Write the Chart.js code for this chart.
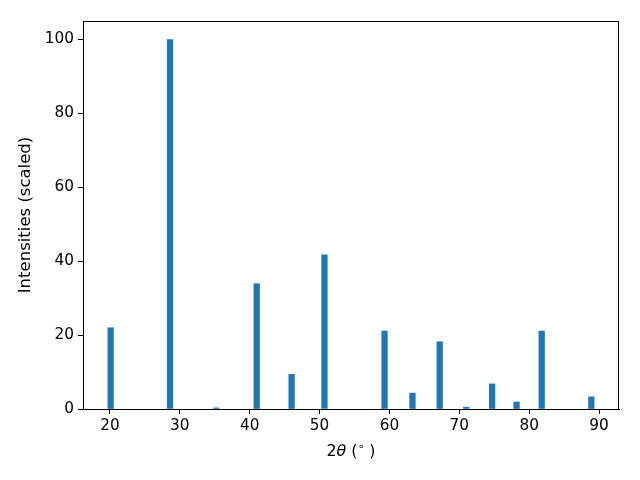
<!DOCTYPE html>
<html>
<head>
<meta charset="utf-8">
<script src="https://cdn.jsdelivr.net/npm/chart.js@4/dist/chart.umd.min.js"></script>
<style>
  html, body { margin: 0; padding: 0; background: #fff; }
  #wrap { width: 640px; height: 480px; }
</style>
</head>
<body>
<div id="wrap"><canvas id="xrd"></canvas></div>
<script>
    // peak positions (2theta, degrees) and scaled intensities
    const peakAngles = [20.1, 28.6, 35.2, 41.0, 46.0, 50.7, 59.3, 63.3, 67.2, 71.0, 74.7, 78.2, 81.8, 88.9];
    const peakIntensities = [22.0, 100.0, 0.3, 33.9, 9.4, 41.7, 21.1, 4.3, 18.2, 0.5, 6.8, 1.9, 21.1, 3.3];
    const xTicks = [20, 30, 40, 50, 60, 70, 80, 90];
    const yTicks = [0, 20, 40, 60, 80, 100];

    const FAMILY = 'DejaVu Sans';
    const FONT = { family: FAMILY, size: 15.3 };
    const LABEL_FONT = { family: FAMILY, size: 16.5 };

    // top/right spines like matplotlib, plus the math-style x label
    const frame = {
        id: 'frame',
        afterDraw(chart) {
            const { ctx, chartArea: a } = chart;
            ctx.save();
            ctx.strokeStyle = '#000';
            ctx.lineWidth = 1;
            ctx.strokeRect(a.left + 0.5, a.top + 0.5, a.right - a.left - 1, a.bottom - a.top);

            // x label: 2θ ( ° )
            const parts = [
                { t: '2', f: `15.8px "${FAMILY}"`, dy: 0 },
                { t: 'θ', f: `oblique 15.8px "${FAMILY}"`, dy: 0 },
                { t: ' (', f: `15.8px "${FAMILY}"`, dy: 0 },
                { t: '∘', f: `11px "${FAMILY}"`, dy: -5 },
                { t: ' )', f: `15.8px "${FAMILY}"`, dy: 0 }
            ];
            let total = 0;
            parts.forEach(p => { ctx.font = p.f; p.w = ctx.measureText(p.t).width; total += p.w; });
            let x = (a.left + a.right) / 2 - total / 2;
            const y = 452;
            ctx.fillStyle = '#000';
            ctx.textBaseline = 'middle';
            ctx.textAlign = 'left';
            parts.forEach(p => {
                ctx.font = p.f;
                ctx.fillText(p.t, x, y + p.dy);
                x += p.w;
            });
            ctx.restore();
        }
    };

    const points = peakAngles.map((x, i) => ({ x, y: peakIntensities[i] }));

    new Chart(document.getElementById('xrd'), {
        type: 'bar',
        data: {
            datasets: [{
                data: points,
                backgroundColor: '#1f77b4',
                borderWidth: 0,
                barThickness: 5.6
            }]
        },
        options: {
            responsive: true,
            maintainAspectRatio: false,
            animation: false,
            layout: { padding: { top: 21, right: 21, left: 0, bottom: 0 } },
            plugins: { legend: { display: false }, tooltip: { enabled: false } },
            scales: {
                x: {
                    type: 'linear',
                    min: 16.14,
                    max: 92.86,
                    offset: false,
                    afterFit(s) { s.height = 71; },
                    afterBuildTicks(s) { s.ticks = xTicks.map(v => ({ value: v })); },
                    ticks: { font: FONT, color: '#000', padding: 3, maxRotation: 0 },
                    grid: { offset: false, drawOnChartArea: false, drawTicks: true, tickLength: 5, color: '#000' },
                    border: { display: true, color: '#000' },
                    title: { display: false }
                },
                y: {
                    min: 0,
                    max: 105,
                    afterFit(s) { s.width = 83; },
                    afterBuildTicks(s) { s.ticks = yTicks.map(v => ({ value: v })); },
                    ticks: { font: FONT, color: '#000', padding: 4 },
                    grid: { drawOnChartArea: false, drawTicks: true, tickLength: 5, color: '#000' },
                    border: { display: true, color: '#000' },
                    title: {
                        display: true,
                        text: 'Intensities (scaled)',
                        font: LABEL_FONT,
                        color: '#000',
                        padding: { top: 16, bottom: 0 }
                    }
                }
            }
        },
        plugins: [frame]
    });
</script>
</body>
</html>
